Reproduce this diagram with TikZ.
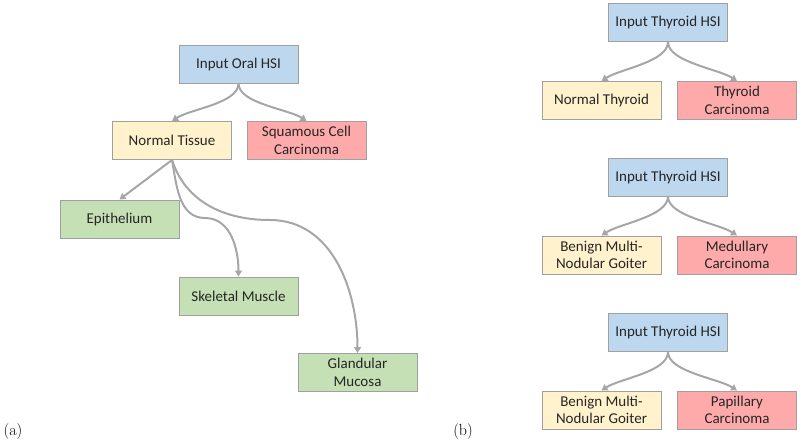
\documentclass[tikz,border=0pt]{standalone}
\usepackage{fontspec}
\newfontfamily\boxfont{Carlito}
\usetikzlibrary{arrows.meta}
\definecolor{bfill}{HTML}{BDD7EE}
\definecolor{yfill}{HTML}{FFF2CC}
\definecolor{rfill}{HTML}{FFAAAA}
\definecolor{gfill}{HTML}{C5E0B4}
\definecolor{edge}{HTML}{A0A0A0}
\definecolor{conn}{HTML}{A6A6A6}
\tikzset{
  box/.style={draw=edge, line width=0.9pt, minimum width=119pt, minimum height=38pt, inner sep=2pt,
    align=center, font=\boxfont\fontsize{15}{17.5}\selectfont, text=black!85},
  bluebox/.style={box, fill=bfill},
  yelbox/.style={box, fill=yfill},
  redbox/.style={box, fill=rfill},
  grnbox/.style={box, fill=gfill},
  conn/.style={draw=conn, line width=2pt, -{Triangle[length=6pt,width=7pt]}},
  caption/.style={font=\fontsize{16}{18}\selectfont}
}
\begin{document}
\begin{tikzpicture}[x=1pt,y=-1pt]
\useasboundingbox (0,0) rectangle (800,445);
% (a)
\node[bluebox] (oral) at (238.5,64) {Input Oral HSI};
\node[yelbox] (nt) at (172,140.5) {Normal Tissue};
\node[redbox] (scc) at (306.5,140.5) {Squamous Cell\\Carcinoma};
\node[grnbox] (epi) at (119.5,219) {Epithelium};
\node[grnbox] (skm) at (238.5,296) {Skeletal Muscle};
\node[grnbox] (glm) at (357.5,372.5) {Glandular\\Mucosa};
\coordinate (w1) at (205,218);
\coordinate (w2) at (270,220);
\draw[conn] (oral.south) .. controls +(0,20) and +(18,-12) .. (nt.north);
\draw[conn] (oral.south) .. controls +(0,20) and +(-18,-12) .. (scc.north);
\draw[conn] (nt.south) -- (epi.north);
\draw[conn] (nt.south) to[out=-80,in=180] (w1) to[out=0,in=90] (skm.north);
\draw[conn] (nt.south) to[out=-72,in=180] (w2) to[out=0,in=90] (glm.north);
\node[caption] (capa) at (13,431) {(a)};
% (b)
\node[bluebox] (t1) at (668,22.5) {Input Thyroid HSI};
\node[yelbox] (nthy) at (601.5,100.5) {Normal Thyroid};
\node[redbox] (tc) at (737,100.5) {Thyroid\\Carcinoma};
\node[bluebox] (t2) at (668,177) {Input Thyroid HSI};
\node[yelbox] (bg1) at (601.5,255) {Benign Multi-\\Nodular Goiter};
\node[redbox] (mc) at (737,255) {Medullary\\Carcinoma};
\node[bluebox] (t3) at (668,332.5) {Input Thyroid HSI};
\node[yelbox] (bg2) at (601.5,410) {Benign Multi-\\Nodular Goiter};
\node[redbox] (pc) at (737,410) {Papillary\\Carcinoma};
\foreach \p/\l/\r in {t1/nthy/tc, t2/bg1/mc, t3/bg2/pc}{
  \draw[conn] (\p.south) .. controls +(0,20) and +(18,-12) .. (\l.north);
  \draw[conn] (\p.south) .. controls +(0,20) and +(-18,-12) .. (\r.north);
}
\node[caption] (capb) at (463,431) {(b)};
\end{tikzpicture}
\end{document}
